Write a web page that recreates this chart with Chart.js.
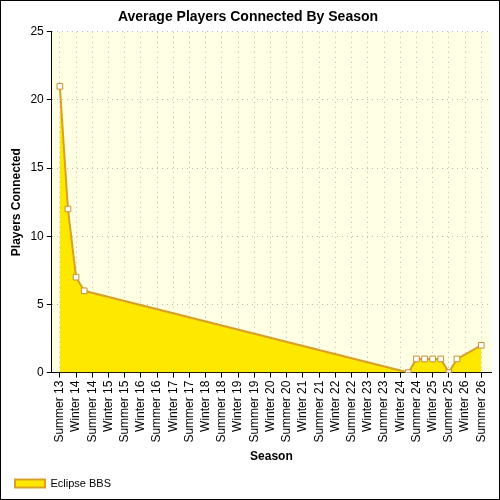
<!DOCTYPE html>
<html><head><script src="https://cdn.jsdelivr.net/npm/chart.js@4"></script>
<style>body{margin:0;background:#fff}#w{position:absolute;left:0;top:0;width:498px;height:498px;border:1px solid #000}</style></head>
<body><div id="w"><canvas id="c" width="498" height="498"></canvas></div>
<script>
const tickLabels=[];for(let y=13;y<=26;y++){tickLabels.push('Summer '+y);if(y<26)tickLabels.push('Winter '+(y+1));}
const xs=[0,0.5,1,1.5,21.5,22,22.5,23,23.5,24,24.5,26];
const ys=[21,12,7,6,0,1,1,1,1,0,1,2];
const bgPlugin={id:'bg',beforeDraw(c){const a=c.chartArea,x=c.ctx;x.save();x.fillStyle='#ffffe4';x.fillRect(a.left,a.top,a.right-a.left,a.bottom-a.top);x.restore();}};
new Chart(document.getElementById('c'),{type:'line',
data:{datasets:[{label:'Eclipse BBS',data:xs.map((x,i)=>({x,y:ys[i]})),borderColor:'#d9a028',borderWidth:2,backgroundColor:'#ffe800',fill:'origin',tension:0,pointRadius:4,pointStyle:'rect',pointBackgroundColor:'#fff',pointBorderColor:'#c89030',pointBorderWidth:1}]},
options:{responsive:false,animation:false,layout:{padding:{right:8,left:4}},
plugins:{title:{display:true,text:'Average Players Connected By Season',font:{family:'Liberation Sans',size:14,weight:'bold'},color:'#000',padding:{top:8,bottom:6}},
legend:{position:'bottom',align:'start',labels:{boxWidth:30,boxHeight:8,font:{family:'Liberation Sans',size:11},color:'#000'}}},
scales:{x:{type:'linear',min:-0.5,max:26.6,afterBuildTicks(s){s.ticks=tickLabels.map((_,i)=>({value:i}));},
ticks:{autoSkip:false,maxRotation:90,minRotation:90,callback:v=>tickLabels[v],font:{family:'Liberation Sans',size:12},color:'#000'},
grid:{color:'#bbb',tickColor:'#000',tickLength:5},border:{color:'#000',dash:[1,4]},
title:{display:true,text:'Season',font:{family:'Liberation Sans',size:12,weight:'bold'},color:'#000'}},
y:{min:0,max:25,ticks:{stepSize:5,font:{family:'Liberation Sans',size:12},color:'#000'},grid:{color:'#bbb',tickColor:'#000',tickLength:5},border:{color:'#000',dash:[1,4]},
title:{display:true,text:'Players Connected',font:{family:'Liberation Sans',size:12,weight:'bold'},color:'#000'}}}},
plugins:[bgPlugin]});
</script></body></html>
